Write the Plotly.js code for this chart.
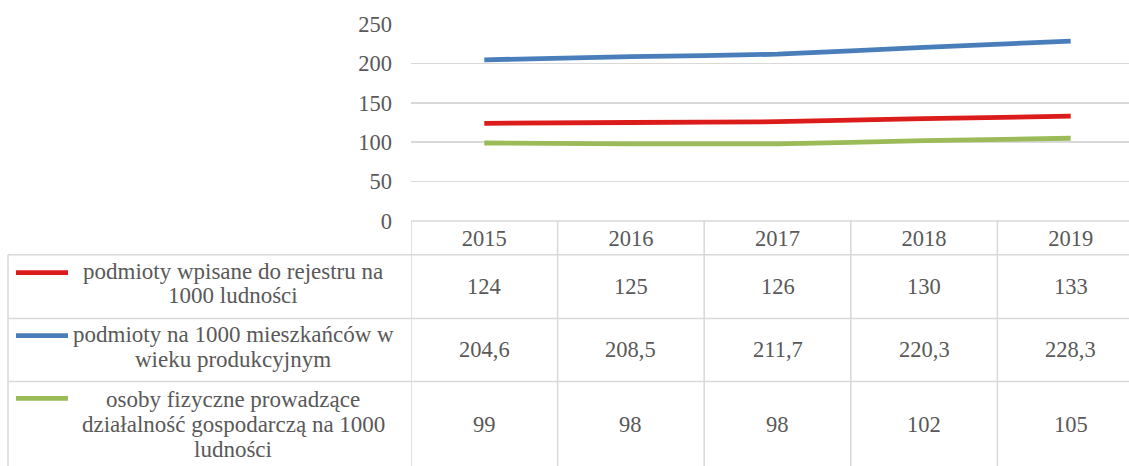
<!DOCTYPE html>
<html><head><meta charset="utf-8">
<script src="https://cdn.plot.ly/plotly-3.0.1.min.js"></script>
<style>html,body{margin:0;padding:0;background:#fff;}#chart{width:1129px;height:466px;}</style>
</head><body><div id="chart"></div>
<script>
// ---- data ----
const years = ['2015', '2016', '2017', '2018', '2019'];
const seriesNames = [
  'podmioty wpisane do rejestru na<br>1000 ludności',
  'podmioty na 1000 mieszkańców w<br>wieku produkcyjnym',
  'osoby fizyczne prowadzące<br>działalność gospodarczą na 1000<br>ludności'
];
const registered = [124, 125, 126, 130, 133];
const perWorkingAge = [204.6, 208.5, 211.7, 220.3, 228.3];
const selfEmployed = [99, 98, 98, 102, 105];
const yTicks = [0, 50, 100, 150, 200, 250];

// ---- styles / layout ----
const W = 1129, H = 466;
const plotLeft = 411, plotTop = 24, plotBottom = 221.3;
const plotH = plotBottom - plotTop;
const colW = 146.6;
const py = p => 1 - (p - plotTop) / plotH;           // pixel y -> paper y
const px = p => (p - plotLeft) / (W - plotLeft);      // pixel x -> paper x
const FONT = "'Liberation Serif', 'Times New Roman', serif";
const FS = 22.5;
const FSL = 23;
const TXT = '#595959';
const GRID = '#d9d9d9';
const colors = ['#dc1b1b', '#4a7ebb', '#9bbb59'];
const values = [registered, perWorkingAge, selfEmployed];
const decimals = [0, 1, 0];

const traces = values.map((v, i) => ({
  type: 'scatter', mode: 'lines', x: years, y: v,
  line: {color: colors[i], width: 4.8, shape: 'spline', smoothing: 0.6},
  hoverinfo: 'skip', showlegend: false
}));

// table geometry (pixels)
const rowLines = [255, 319, 382];
const rowTextY = [[272, 296], [335, 360], [400, 425, 450]];
const rowMidY = [287, 350, 425];
const keyY = [273, 336, 399];

const shapes = [];
const line = (x0, y0, x1, y1, xref, extra) => Object.assign({
  type: 'line', xref: xref || 'paper', yref: 'paper', x0, y0, x1, y1,
  line: {color: GRID, width: 1.5}, layer: 'above'
}, extra || {});
shapes.push(line(0, py(plotBottom), 1.05, py(plotBottom)));
rowLines.forEach(r => shapes.push(line(px(8), py(r), 1.05, py(r))));
shapes.push(line(px(8), py(rowLines[0]), px(8), py(H + 5)));
for (let k = 0; k <= years.length; k++) {
  shapes.push(line(k - 0.5, py(plotBottom), k - 0.5, py(H + 5), 'x'));
}
keyY.forEach((y, i) => shapes.push(line(px(16), py(y), px(68), py(y), 'paper',
  {line: {color: colors[i], width: 4.8}})));

const annotations = [];
seriesNames.forEach((name, i) => {
  name.split('<br>').forEach((ln, k) => {
    annotations.push({
      xref: 'paper', yref: 'paper', x: px(233), y: py(rowTextY[i][k]),
      xanchor: 'center', yanchor: 'middle', text: ln, showarrow: false, align: 'center',
      font: {family: FONT, size: FSL, color: TXT}
    });
  });
  values[i].forEach((v, j) => {
    annotations.push({
      xref: 'paper', yref: 'paper', x: px(plotLeft + colW * (j + 0.5)), y: py(rowMidY[i]),
      xanchor: 'center', yanchor: 'middle', showarrow: false,
      text: v.toFixed(decimals[i]).replace('.', ','),
      font: {family: FONT, size: FS, color: TXT}
    });
  });
});

const layout = {
  width: W, height: H,
  margin: {l: plotLeft, r: 0, t: plotTop, b: H - plotBottom, pad: 0},
  paper_bgcolor: '#fff', plot_bgcolor: '#fff',
  showlegend: false,
  font: {family: FONT, color: TXT},
  xaxis: {
    type: 'category', range: [-0.5, -0.5 + (W - plotLeft) / colW],
    showgrid: false, zeroline: false, showline: false, ticks: '',
    tickfont: {family: FONT, size: FS, color: TXT}, ticklabelstandoff: 1,
    fixedrange: true
  },
  yaxis: {
    range: [0, 250], tickvals: yTicks, ticktext: yTicks.map(String),
    showgrid: true, gridcolor: GRID, gridwidth: 1.5, zeroline: false, showline: false,
    ticks: '', tickfont: {family: FONT, size: FS, color: TXT}, ticklabelstandoff: 18,
    fixedrange: true
  },
  shapes, annotations
};
Plotly.newPlot('chart', traces, layout, {displayModeBar: false, staticPlot: true});
</script></body></html>
